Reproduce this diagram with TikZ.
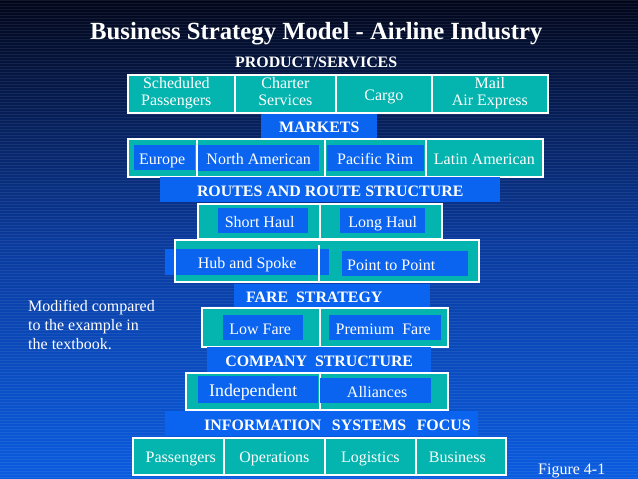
\documentclass[tikz,border=0pt]{standalone}
\usepackage{fontspec}
\setmainfont{Liberation Serif}
\definecolor{tealcell}{HTML}{04B4AE}
\definecolor{blueband}{HTML}{0A64F0}
\definecolor{bgtop}{HTML}{02061A}
\definecolor{bgmid}{HTML}{0A3A9C}
\definecolor{bgbot}{HTML}{0A5CE0}
\newcommand{\liftline}{\rule[-5pt]{0pt}{23pt}}
\tikzset{
	cell/.style = {anchor = north west, fill = tealcell, draw = white, line width = 1.7pt, inner sep = 0pt, align = center, text = white, font = \fontsize{16}{17}\selectfont, execute at begin node = \liftline},
	inner/.style = {anchor = north west, fill = blueband, inner sep = 0pt, align = center, text = white, font = \fontsize{16}{17}\selectfont, execute at begin node = \liftline},
	band/.style = {anchor = north west, fill = blueband, inner sep = 0pt, text = white, font = \fontsize{15.9}{18}\selectfont\bfseries, execute at begin node = \liftline},
	frame/.style = {anchor = north west, draw = white, line width = 1.7pt, inner sep = 0pt},
	note/.style = {anchor = north west, inner sep = 0pt, align = left, text = white, font = \fontsize{16}{19}\selectfont}
}
\begin{document}
\begin{tikzpicture}[x = 1pt, y = -1pt]
	\useasboundingbox (0,0) rectangle (638,479);
	% background
	\shade[top color = bgtop, bottom color = bgbot, middle color = bgmid] (0,0) rectangle (638,479);
	\foreach \i in {0,3,...,477}
		\draw[white, opacity = 0.07, line width = 1pt] (0,\i) -- (638,\i);

	\node[anchor = north west, inner sep = 0pt, text = white, font = \fontsize{24.7}{26}\selectfont\bfseries] (title) at (90,22) {Business Strategy Model - Airline Industry};

	% product row
	\node[band, fill = none] (product) at (235,49) {PRODUCT/SERVICES};
	\node[cell, minimum width = 107pt, minimum height = 38pt] (scheduled) at (127,74) {\hspace*{-10pt}Scheduled\\\hspace*{-10pt}Passengers};
	\node[cell, minimum width = 101pt, minimum height = 38pt] (charter) at (234,74) {Charter\\Services};
	\node[cell, minimum width = 96pt, minimum height = 38pt] (cargo) at (335,74) {Cargo};
	\node[cell, minimum width = 116pt, minimum height = 38pt] (mail) at (431,74) {Mail\\Air Express};

	% markets
	\node[band, minimum width = 116pt, minimum height = 24pt] (markets) at (261,114) {MARKETS};
	\node[cell, minimum width = 69pt, minimum height = 38pt] (europecell) at (127,138) {};
	\node[cell, minimum width = 128pt, minimum height = 38pt] (northcell) at (196,138) {};
	\node[cell, minimum width = 101pt, minimum height = 38pt] (pacificcell) at (324,138) {};
	\node[cell, minimum width = 117pt, minimum height = 38pt] (latin) at (425,138) {Latin American};
	\node[inner, minimum width = 61pt, minimum height = 25pt] (europe) at (133.5,145) {\hspace*{-4pt}Europe};
	\node[inner, minimum width = 121pt, minimum height = 26pt] (north) at (198,145) {North American};
	\node[inner, minimum width = 97pt, minimum height = 26pt] (pacific) at (326.5,145) {Pacific Rim};

	% routes
	\node[band, minimum width = 340pt, minimum height = 25pt] (routes) at (160,177) {ROUTES AND ROUTE STRUCTURE};
	\node[cell, minimum width = 122pt, minimum height = 35pt] (shortcell) at (197,203) {};
	\node[cell, minimum width = 122pt, minimum height = 35pt] (longcell) at (319,203) {};
	\node[inner, minimum width = 90pt, minimum height = 25pt] (short) at (218,208) {\hspace*{-7pt}Short Haul};
	\node[inner, minimum width = 85pt, minimum height = 25pt] (long) at (340,208) {Long Haul};
	\node[cell, minimum width = 304pt, minimum height = 42pt] (hubcell) at (174,239) {};
	\node[inner, minimum width = 164pt, minimum height = 26pt] (hub) at (165,249) {Hub and Spoke};
	\node[inner, minimum width = 126pt, minimum height = 25pt] (point) at (342,251) {\hspace*{-28pt}Point to Point};
	\node[frame, minimum width = 304pt, minimum height = 42pt] (hubframe) at (174,239) {};
	\draw[white, line width = 1.7pt] (319,245) -- (hubframe.south -| 319,245);

	% fare
	\node[band, minimum width = 196pt, minimum height = 24pt] (fare) at (234,284) {\hspace*{-36pt}FARE\ \ STRATEGY};
	\node[cell, minimum width = 118pt, minimum height = 39pt] (lowcell) at (201,307) {};
	\node[cell, minimum width = 128pt, minimum height = 39pt] (premiumcell) at (319,307) {};
	\node[inner, minimum width = 80pt, minimum height = 25pt] (low) at (223,315) {\hspace*{-6pt}Low Fare};
	\node[inner, minimum width = 112pt, minimum height = 25pt] (premium) at (329,315) {\hspace*{-4pt}Premium\ \ Fare};

	% company
	\node[band, minimum width = 224pt, minimum height = 25pt] (company) at (207,347) {COMPANY\ \ STRUCTURE};
	\node[cell, minimum width = 134pt, minimum height = 37pt] (independentcell) at (185,372) {};
	\node[cell, minimum width = 128pt, minimum height = 37pt] (alliancecell) at (319,372) {};
	\node[inner, minimum width = 120pt, minimum height = 27pt, font = \fontsize{17.8}{20}\selectfont] (independent) at (198,376) {\hspace*{-10pt}Independent};
	\node[inner, minimum width = 111pt, minimum height = 25pt] (alliances) at (320,378) {\hspace*{3pt}Alliances};

	% information systems
	\node[band, minimum width = 313pt, minimum height = 25pt, text width = 306pt, align = right] (info) at (165,411) {INFORMATION\ \ SYSTEMS\ \ FOCUS\hspace*{4pt}};
	\node[cell, minimum width = 91pt, minimum height = 37pt] (passengers) at (132,437) {\hspace*{5pt}Passengers};
	\node[cell, minimum width = 101pt, minimum height = 37pt] (operations) at (223,437) {Operations};
	\node[cell, minimum width = 91pt, minimum height = 37pt] (logistics) at (324,437) {Logistics};
	\node[cell, minimum width = 90pt, minimum height = 37pt] (business) at (415,437) {\hspace*{-7pt}Business};

	% side notes
	\node[note] (modified) at (28,300) {Modified compared\\to the example in\\the textbook.};
	\node[note] (figure) at (538,464) {Figure 4-1};
\end{tikzpicture}
\end{document}
